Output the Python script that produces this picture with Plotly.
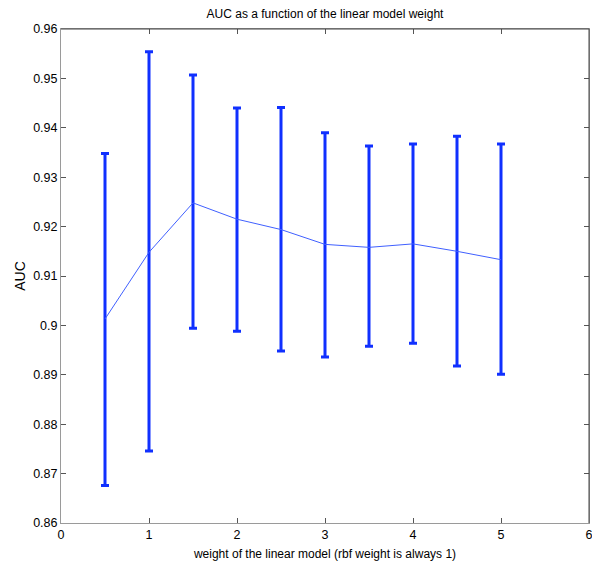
import plotly.graph_objects as go

weights = [0.5, 1.0, 1.5, 2.0, 2.5, 3.0, 3.5, 4.0, 4.5, 5.0]
auc_mean = [0.9013, 0.9148, 0.9248, 0.9215, 0.9194, 0.9164, 0.9158, 0.9165, 0.9150, 0.9133]
auc_upper = [0.9348, 0.9554, 0.9507, 0.9440, 0.9441, 0.9390, 0.9363, 0.9367, 0.9383, 0.9367]
auc_lower = [0.8676, 0.8746, 0.8994, 0.8988, 0.8948, 0.8936, 0.8958, 0.8964, 0.8918, 0.8901]

x_ticks = [0, 1, 2, 3, 4, 5, 6]
y_ticks = [0.86, 0.87, 0.88, 0.89, 0.90, 0.91, 0.92, 0.93, 0.94, 0.95, 0.96]
y_ticktext = ["0.86", "0.87", "0.88", "0.89", "0.9", "0.91", "0.92", "0.93", "0.94", "0.95", "0.96"]

err_plus = [u - m for u, m in zip(auc_upper, auc_mean)]
err_minus = [m - l for m, l in zip(auc_mean, auc_lower)]

BLUE = "#1030ff"
FONT = "Liberation Sans, Arial, sans-serif"

# page body has an 8px default margin, so the figure is 592x555
W, H = 592, 555
L, T = 53, 21
PW, PH = 528, 494

fig = go.Figure()
fig.add_trace(go.Scatter(
    x=weights, y=auc_mean, mode="lines",
    line=dict(color="#4060ff", width=1),
    error_y=dict(type="data", symmetric=False, array=err_plus, arrayminus=err_minus,
                 color=BLUE, thickness=3, width=4),
    showlegend=False, hoverinfo="skip",
))

axis_common = dict(
    showline=True, linecolor="#9a9a9a", linewidth=1, mirror="ticks",
    ticks="inside", ticklen=5, tickcolor="#555555", tickwidth=1,
    showgrid=False, zeroline=False, automargin=False,
    tickfont=dict(family=FONT, size=12.5, color="#000000"),
)

fig.update_layout(
    width=W, height=H,
    margin=dict(l=L, r=W - L - PW, t=T, b=H - T - PH),
    paper_bgcolor="white", plot_bgcolor="white",
    title=dict(text="AUC as a function of the linear model weight",
               font=dict(family=FONT, size=12, color="#000000"),
               x=(L + PW / 2) / W, xanchor="center", y=1 - 6 / H, yanchor="middle"),
    xaxis=dict(range=[0, 6], tickvals=x_ticks, ticktext=[str(t) for t in x_ticks],
               title=dict(text="weight of the linear model (rbf weight is always 1)",
                          font=dict(family=FONT, size=12, color="#000000"), standoff=8),
               **axis_common),
    yaxis=dict(range=[0.86, 0.96], tickvals=y_ticks, ticktext=y_ticktext,
               title=dict(text="AUC", font=dict(family=FONT, size=14, color="#000000"), standoff=4),
               **axis_common),
)

# darker top and right box edges (MATLAB-style box)
fig.add_shape(type="line", xref="paper", yref="paper", x0=0, x1=1, y0=1, y1=1,
              line=dict(color="#444444", width=1))
fig.add_shape(type="line", xref="paper", yref="paper", x0=1, x1=1, y0=0, y1=1,
              line=dict(color="#444444", width=1))

fig.write_html("out.html")
